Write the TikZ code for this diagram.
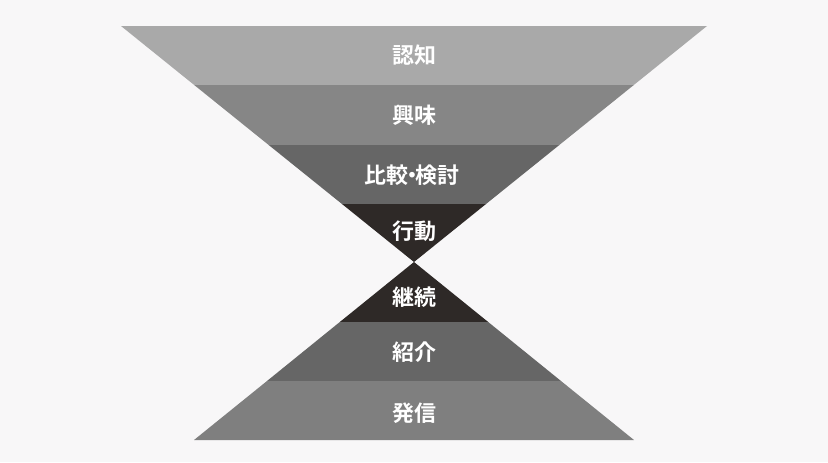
\documentclass[tikz,border=0pt]{standalone}
\usepackage{fontspec}
\newfontfamily\jpfont{Noto Sans CJK JP Bold}
\usepackage{tikz}
\definecolor{bgcol}{HTML}{F8F7F8}
\definecolor{bandA}{HTML}{A9A9A9}
\definecolor{bandB}{HTML}{868686}
\definecolor{bandC}{HTML}{666666}
\definecolor{bandD}{HTML}{2E2927}
\definecolor{bandE}{HTML}{7F7F7F}
\tikzset{lbl/.style={text=white,font=\jpfont\fontsize{12.5}{15}\selectfont,inner sep=0pt}}

\begin{document}
\begin{tikzpicture}[x=0.2mm,y=-0.2mm]
				\fill [bgcol] (0,0) rectangle (828,462);
				\useasboundingbox (0,0) rectangle (828,462);
				\fill [bandA] (121,26) -- (707,26) -- (633.8,85) -- (194.2,85) -- cycle;
				\node [lbl] (ninchi) at (414,55.5) {認知};
				\fill [bandB] (194.2,85) -- (633.8,85) -- (559.3,145) -- (268.7,145) -- cycle;
				\node [lbl] (kyoumi) at (414,115) {興味};
				\fill [bandC] (268.7,145) -- (559.3,145) -- (486,204) -- (342,204) -- cycle;
				\node [lbl] (hikaku) at (412,175) {比較\kern-0.32em・\kern-0.32em検討};
				\fill [bandD] (342,204) -- (486,204) -- (414,262) -- cycle;
				\node [lbl] (koudou) at (414,231) {行動};
%				lower half
				\fill [bandD] (414,262) -- (488.2,322) -- (339.8,322) -- cycle;
				\node [lbl] (keizoku) at (414,297) {継続};
				\fill [bandC] (339.8,322) -- (488.2,322) -- (561,381) -- (267,381) -- cycle;
				\node [lbl] (shoukai) at (414,352) {紹介};
				\fill [bandE] (267,381) -- (561,381) -- (634,440) -- (194,440) -- cycle;
				\node [lbl] (hasshin) at (414,413) {発信};
			\end{tikzpicture}
\end{document}
